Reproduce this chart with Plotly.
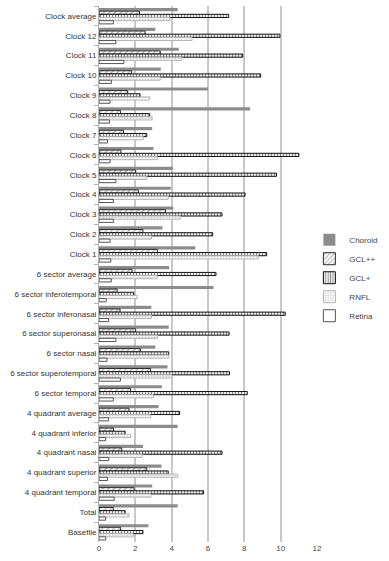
import plotly.graph_objects as go

categories = [
    "Clock average", "Clock 12", "Clock 11", "Clock 10", "Clock 9", "Clock 8",
    "Clock 7", "Clock 6", "Clock 5", "Clock 4", "Clock 3", "Clock 2", "Clock 1",
    "6 sector average", "6 sector inferotemporal", "6 sector inferonasal",
    "6 sector superonasal", "6 sector nasal", "6 sector superotemporal",
    "6 sector temporal", "4 quadrant average", "4 quadrant inferior",
    "4 quadrant nasal", "4 quadrant superior", "4 quadrant temporal",
    "Total", "Basefile",
]

choroid = [4.33, 3.10, 4.39, 3.40, 6.00, 8.32, 2.93, 3.00, 4.07, 3.95, 4.09, 3.49, 5.30,
           3.86, 6.30, 2.88, 3.84, 3.10, 3.77, 3.46, 3.28, 4.33, 2.42, 3.44, 2.93, 4.33, 2.72]
gcl_pp = [2.23, 2.54, 3.37, 1.80, 1.58, 1.18, 1.35, 1.21, 2.02, 2.16, 3.67, 2.42, 3.21,
          1.82, 1.00, 1.16, 2.02, 2.28, 2.84, 1.74, 1.65, 0.80, 1.25, 2.63, 1.93, 0.79, 1.19]
gcl_p = [7.14, 9.96, 7.91, 8.90, 2.26, 2.79, 2.63, 11.00, 9.77, 8.04, 6.77, 6.26, 9.23,
         6.44, 1.91, 10.25, 7.16, 3.84, 7.18, 8.16, 4.44, 1.44, 6.77, 3.81, 5.75, 1.44, 2.42]
rnfl = [3.90, 5.12, 4.56, 3.37, 2.79, 2.93, 2.44, 3.21, 2.63, 3.81, 4.47, 2.89, 8.77,
        3.21, 2.10, 2.89, 3.21, 3.84, 4.02, 3.00, 2.84, 1.75, 2.37, 4.33, 2.86, 1.66, 1.89]
retina = [0.79, 0.93, 1.37, 0.68, 0.61, 0.58, 0.47, 0.61, 0.93, 0.79, 0.79, 0.61, 0.65,
          0.68, 0.40, 0.53, 0.93, 0.44, 1.18, 0.79, 0.53, 0.37, 0.54, 0.47, 0.84, 0.37, 0.37]

x_ticks = [0, 2, 4, 6, 8, 10, 12]

series = [
    ("Choroid", choroid, dict(color="#8c8c8c", line=dict(width=0))),
    ("GCL++", gcl_pp, dict(color="white", line=dict(color="#2a2a2a", width=1),
                           pattern=dict(shape="/", fgcolor="#555555", bgcolor="white", size=4, solidity=0.3))),
    ("GCL+", gcl_p, dict(color="white", line=dict(color="#111111", width=1),
                         pattern=dict(shape="|", fgcolor="#111111", bgcolor="white", size=3, solidity=0.45))),
    ("RNFL", rnfl, dict(color="white", line=dict(color="#b4b4b4", width=1),
                        pattern=dict(shape=".", fgcolor="#a0a0a0", bgcolor="white", size=3, solidity=0.4))),
    ("Retina", retina, dict(color="white", line=dict(color="#555555", width=1))),
]

fig = go.Figure()
for name, vals, marker in series:
    fig.add_trace(go.Bar(y=categories, x=vals, name=name, orientation="h", marker=marker))

fig.update_layout(
    width=389, height=561,
    margin=dict(l=99, r=62, t=6, b=19),
    barmode="group", bargap=0.2, bargroupgap=0,
    plot_bgcolor="white", paper_bgcolor="white",
    font=dict(family="Liberation Sans, Arial, sans-serif", size=8, color="#333333"),
    showlegend=True,
    legend=dict(x=0.965, y=0.591, xanchor="left", yanchor="top",
                font=dict(size=8, color="#444444"), bgcolor="rgba(0,0,0,0)",
                tracegroupgap=0, itemwidth=30),
    xaxis=dict(range=[0, 12], tickvals=x_ticks, showgrid=True, gridcolor="#c8c8c8",
               gridwidth=1.5, zeroline=False, showline=False, ticks="", automargin=False,
               tickfont=dict(size=8, color="#444444")),
    yaxis=dict(type="category", autorange="reversed", showline=True, linecolor="#b0b0b0",
               linewidth=1, ticks="outside", tickson="boundaries", ticklen=4, automargin=False,
               tickcolor="#b0b0b0", showgrid=False, tickfont=dict(size=8, color="#333333")),
)

fig.write_html("out.html", config={"displayModeBar": False},
               post_script="document.body.style.margin='0px';")
